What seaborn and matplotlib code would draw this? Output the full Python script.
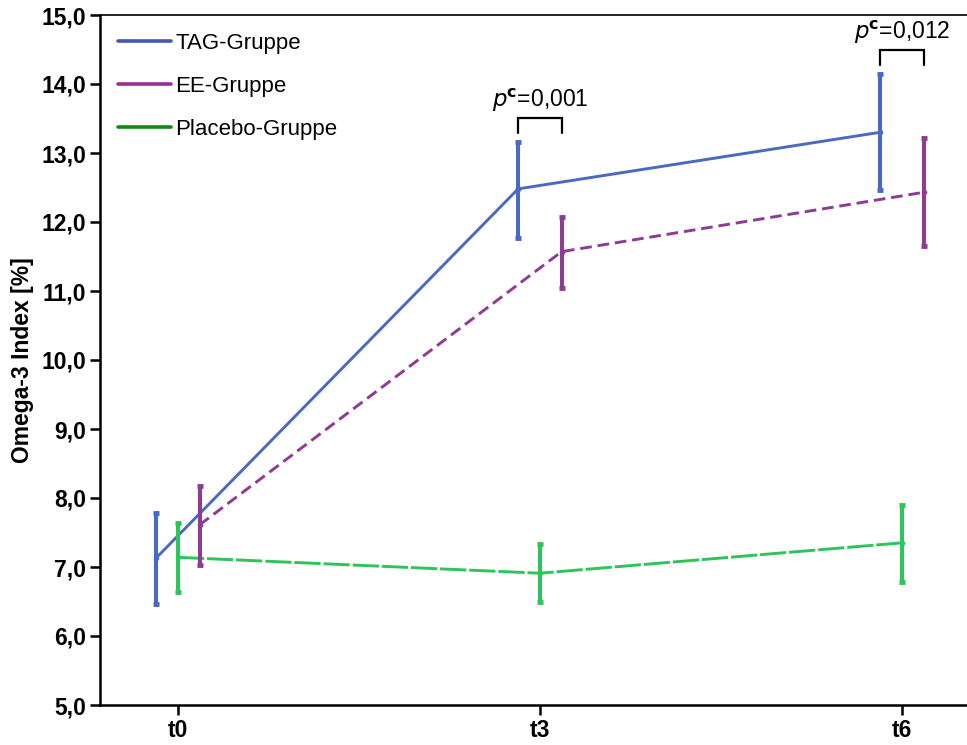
import numpy as np
import pandas as pd
import matplotlib
matplotlib.use("Agg")
import matplotlib.pyplot as plt
from matplotlib.lines import Line2D
import seaborn as sns

# --- data ---
timepoints = ["t0", "t3", "t6"]
groups = ["TAG-Gruppe", "EE-Gruppe", "Placebo-Gruppe"]

tag_mean = [7.13, 12.48, 13.30]
tag_low = [6.46, 11.77, 12.46]
tag_high = [7.78, 13.16, 14.14]

ee_mean = [7.61, 11.57, 12.43]
ee_low = [7.03, 11.04, 11.65]
ee_high = [8.17, 12.07, 13.22]

placebo_mean = [7.14, 6.91, 7.35]
placebo_low = [6.64, 6.49, 6.78]
placebo_high = [7.64, 7.33, 7.90]

p_labels = ["0,001", "0,012"]

# --- styling ---
line_colors = {"TAG-Gruppe": "#4a69c2", "EE-Gruppe": "#8e3b92", "Placebo-Gruppe": "#2dc45a"}
legend_colors = {"TAG-Gruppe": "#4856b0", "EE-Gruppe": "#952f95", "Placebo-Gruppe": "#108a10"}
offsets = {"TAG-Gruppe": -0.06, "EE-Gruppe": 0.06, "Placebo-Gruppe": 0.0}
dash_styles = {"TAG-Gruppe": "", "EE-Gruppe": (4, 2), "Placebo-Gruppe": (9, 1)}

means = {"TAG-Gruppe": tag_mean, "EE-Gruppe": ee_mean, "Placebo-Gruppe": placebo_mean}
lows = {"TAG-Gruppe": tag_low, "EE-Gruppe": ee_low, "Placebo-Gruppe": placebo_low}
highs = {"TAG-Gruppe": tag_high, "EE-Gruppe": ee_high, "Placebo-Gruppe": placebo_high}

rows = []
for g in groups:
    for i, t in enumerate(timepoints):
        rows.append({"group": g, "time": t, "pos": i + offsets[g],
                     "mean": means[g][i], "low": lows[g][i], "high": highs[g][i]})
df = pd.DataFrame(rows)

sns.set_style("white")
plt.rcParams["font.family"] = ["Liberation Sans", "DejaVu Sans"]
plt.rcParams["text.color"] = "black"
plt.rcParams["axes.labelcolor"] = "black"

fig = plt.figure(figsize=(9.67, 7.45), dpi=100)
ax = fig.add_axes([100 / 967, 40 / 745, 867 / 967, 690 / 745])

sns.lineplot(data=df, x="pos", y="mean", hue="group", style="group",
             palette=line_colors, dashes=dash_styles, hue_order=groups,
             style_order=groups, linewidth=2.1, legend=False, ax=ax,
             estimator=None, sort=True)

for g in groups:
    sub = df[df["group"] == g]
    ax.errorbar(sub["pos"], sub["mean"],
                yerr=[sub["mean"] - sub["low"], sub["high"] - sub["mean"]],
                fmt="none", ecolor=line_colors[g], elinewidth=2.9,
                capsize=2.2, capthick=3.5, zorder=3)
    ax.scatter(sub["pos"], sub["mean"], s=16, color=line_colors[g], zorder=4,
               linewidths=0)

# significance brackets between TAG and EE at t3 and t6
for k, i in enumerate([1, 2]):
    x0 = i + offsets["TAG-Gruppe"]
    x1 = i + offsets["EE-Gruppe"]
    top = max(highs["TAG-Gruppe"][i], highs["EE-Gruppe"][i]) + 0.35
    ax.plot([x0, x0, x1, x1], [top - 0.22, top, top, top - 0.22],
            color="black", lw=1.6, solid_joinstyle="miter")
    ax.text((x0 + x1) / 2, top + 0.06, r"$\it{p}$$^{\mathbf{c}}$=" + p_labels[k],
            ha="center", va="bottom", fontsize=16.5)

ax.set_xlim(-0.215, 2.18)
ax.set_ylim(5.0, 15.0)
ax.set_xticks(range(len(timepoints)))
ax.set_xticklabels(timepoints, fontsize=16.5, fontweight="bold")
yt = np.arange(5.0, 15.01, 1.0)
ax.set_yticks(yt)
ax.set_yticklabels([f"{v:.1f}".replace(".", ",") for v in yt],
                   fontsize=16.5, fontweight="bold")
ax.set_xlabel("")
ax.set_ylabel("Omega-3 Index [%]", fontsize=16.5, fontweight="bold", labelpad=5)

ax.tick_params(axis="both", direction="out", length=7, width=1.8, colors="black",
               left=True, bottom=True, pad=3)
for side in ["left", "bottom"]:
    ax.spines[side].set_linewidth(1.8)
    ax.spines[side].set_color("black")
ax.spines["top"].set_linewidth(1.2)
ax.spines["top"].set_color("black")
ax.spines["right"].set_visible(False)

handles = [Line2D([0], [0], color=legend_colors[g], lw=2.6) for g in groups]
ax.legend(handles, groups, loc="upper left", frameon=False, fontsize=16,
          handlelength=2.4, handletextpad=0.2, labelspacing=1.0,
          bbox_to_anchor=(0.0, 1.0), borderaxespad=0.4)

fig.savefig("out.png", dpi=100)
